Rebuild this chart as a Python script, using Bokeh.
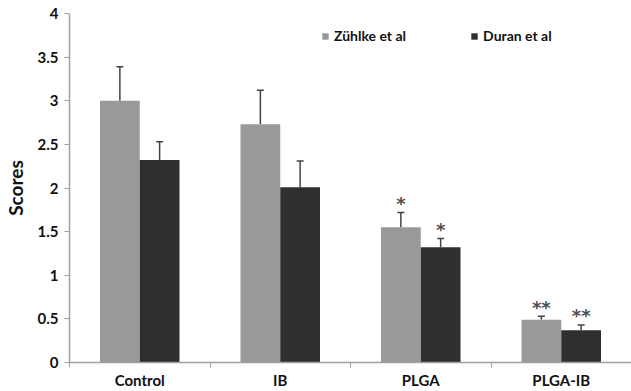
from bokeh.plotting import figure
from bokeh.models import (ColumnDataSource, FixedTicker, Whisker, TeeHead, Legend, LegendItem)
from bokeh.core.properties import value
from bokeh.embed import file_html
from bokeh.resources import INLINE

groups = ["Control", "IB", "PLGA", "PLGA-IB"]
zuhlke = [3.0, 2.73, 1.55, 0.49]
zuhlke_err = [0.39, 0.39, 0.17, 0.04]
duran = [2.32, 2.01, 1.32, 0.37]
duran_err = [0.21, 0.30, 0.10, 0.06]
zuhlke_sig = ["", "", "*", "**"]
duran_sig = ["", "", "*", "**"]
y_ticks = [0, 0.5, 1, 1.5, 2, 2.5, 3, 3.5, 4]

FONT = "Lato"
GRAY = "#999999"
DARK = "#2f2f2f"
BAR_W = 0.283

centers = [i + 0.5 for i in range(len(groups))]
zx = [c - BAR_W / 2 for c in centers]
dx = [c + BAR_W / 2 for c in centers]

src_z = ColumnDataSource(dict(x=zx, top=zuhlke, upper=[v + e for v, e in zip(zuhlke, zuhlke_err)], sig=zuhlke_sig))
src_d = ColumnDataSource(dict(x=dx, top=duran, upper=[v + e for v, e in zip(duran, duran_err)], sig=duran_sig))

p = figure(width=631, height=391, output_backend="svg", toolbar_location=None,
           x_range=(0, len(groups)), y_range=(0, 4),
           min_border_left=67, min_border_right=0, min_border_top=13, min_border_bottom=29)
p.outline_line_color = None
p.xgrid.visible = False
p.ygrid.visible = False
p.background_fill_color = "white"
p.border_fill_color = "white"

rz = p.vbar(x="x", top="top", width=BAR_W, source=src_z, fill_color=GRAY, line_color=None)
rd = p.vbar(x="x", top="top", width=BAR_W, source=src_d, fill_color=DARK, line_color=None)

for src in (src_z, src_d):
    w = Whisker(base="x", lower="top", upper="upper", source=src, dimension="height",
                line_color="#444444", line_width=1.5, lower_head=None,
                upper_head=TeeHead(size=7, line_color="#444444", line_width=1.5))
    p.add_layout(w)
    p.text(x="x", y="upper", text="sig", source=src, text_align="center", text_baseline="middle",
           text_font=value("DejaVu Sans"), text_font_size="18px", text_font_style="bold",
           text_color="#505050", y_offset=-9)

# x axis
xa = p.xaxis[0]
xa.ticker = FixedTicker(ticks=centers, minor_ticks=list(range(len(groups) + 1)))
xa.major_label_overrides = {c: g for c, g in zip(centers, groups)}
xa.major_tick_out = 0
xa.major_tick_in = 0
xa.minor_tick_out = 5
xa.minor_tick_in = 0
xa.minor_tick_line_color = "#a0a0a0"
xa.axis_line_color = "#a0a0a0"
xa.axis_line_width = 1.5
xa.major_label_text_font = FONT
xa.major_label_text_font_style = "bold"
xa.major_label_text_font_size = "15px"
xa.major_label_text_color = "#111111"
xa.major_label_standoff = 3

ya = p.yaxis[0]
ya.ticker = FixedTicker(ticks=y_ticks)
ya.minor_tick_line_color = None
ya.major_tick_out = 5
ya.major_tick_in = 0
ya.major_tick_line_color = "#a0a0a0"
ya.axis_line_color = "#a0a0a0"
ya.axis_line_width = 1.5
ya.major_label_text_font = FONT
ya.major_label_text_font_style = "bold"
ya.major_label_text_font_size = "15px"
ya.major_label_text_color = "#111111"
ya.major_label_standoff = 6
ya.axis_label = "Scores"
ya.axis_label_text_font = FONT
ya.axis_label_text_font_style = "bold"
ya.axis_label_text_font_size = "19px"
ya.axis_label_text_color = "#111111"
ya.axis_label_standoff = 8

legend = Legend(items=[LegendItem(label="Zühlke et al", renderers=[rz]),
                       LegendItem(label="Duran et al", renderers=[rd])],
                orientation="horizontal", location=(252, 318),
                glyph_width=8, glyph_height=8, label_standoff=5, spacing=64,
                padding=0, margin=0, border_line_color=None, background_fill_alpha=0,
                label_text_font=FONT, label_text_font_style="bold", label_text_font_size="14px",
                label_text_color="#111111")
p.add_layout(legend)

open("out.html", "w").write(file_html(p, INLINE))
